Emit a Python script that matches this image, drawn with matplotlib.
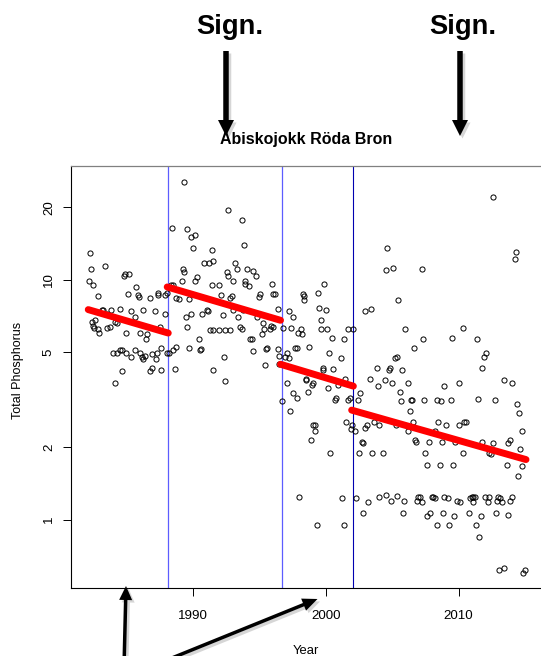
import matplotlib
matplotlib.use("Agg")
import matplotlib.pyplot as plt
from matplotlib.patches import FancyArrow
from matplotlib.transforms import IdentityTransform
import numpy as np

plt.rcParams['font.family'] = ['Liberation Sans', 'DejaVu Sans']

title = "Abiskojokk Röda Bron"
xlabel = "Year"
ylabel = "Total Phosphorus"
x_ticks = [1990, 2000, 2010]
y_ticks = [1, 2, 5, 10, 20]
y_tick_labels = ["1", "2", "5", "10", "20"]
breaks_blue = [1988.08, 1996.67]
break_dark = 2002.07

# observations (year, total phosphorus)
years = [
    1982.21, 1982.29, 1982.16, 1982.46, 1982.86, 1983.34, 1984.85, 1984.80, 1985.15, 1985.68,
    1985.10, 1985.85, 1985.93, 1986.73, 1987.36, 1987.31, 1987.86, 1988.04, 1982.34, 1982.59,
    1982.46, 1982.54, 1982.79, 1982.91, 1983.09, 1983.22, 1983.47, 1983.84, 1983.72, 1983.47,
    1984.09, 1984.47, 1984.27, 1984.97, 1985.28, 1985.60, 1985.98, 1986.23, 1986.53, 1986.43,
    1987.11, 1987.49, 1987.89, 1983.97, 1984.22, 1984.47, 1984.60, 1984.97, 1985.30, 1985.60,
    1985.98, 1986.11, 1986.23, 1986.36, 1986.86, 1987.24, 1987.19, 1987.61, 1988.04, 1988.19,
    1988.49, 1988.74, 1984.67, 1986.73, 1986.86, 1987.61, 1988.62, 1984.09,
    1989.30, 1988.42, 1989.55, 1989.80, 1990.15, 1990.00, 1991.38, 1991.51, 1990.83, 1991.18,
    1989.25, 1989.30, 1989.12, 1990.13, 1990.30, 1989.70, 1989.45, 1989.50, 1989.87, 1988.49,
    1988.32, 1988.69, 1988.94, 1989.70, 1990.53, 1990.60, 1990.40, 1991.01, 1991.13, 1990.70,
    1991.38, 1991.96, 1992.09, 1992.21, 1992.51, 1992.64, 1993.02, 1993.14, 1993.27, 1993.84,
    1993.64, 1992.59, 1992.89, 1992.81, 1993.02, 1993.39, 1993.52, 1993.69, 1992.76, 1992.39,
    1991.96, 1991.46, 1991.23, 1991.51, 1992.34, 1992.39, 1994.02, 1994.52, 1994.72, 1993.94,
    1993.89, 1994.20, 1995.03, 1994.97, 1994.82, 1995.28, 1995.33, 1995.15, 1994.40, 1994.27,
    1994.47, 1995.48, 1995.58, 1995.95, 1996.03, 1996.16, 1996.41, 1995.83, 1995.78, 1996.03,
    1996.41, 1996.43, 1995.40, 1996.48, 1993.72,
    1996.74, 1997.25, 1997.50, 1997.37, 1997.87, 1998.10, 1998.18, 1998.25, 1998.35, 1998.38,
    1999.43, 1999.86, 1999.51, 2000.01, 1999.61, 1999.61, 2000.06, 2000.44, 2001.40, 2001.64,
    2002.07, 1997.67, 1997.80, 1998.75, 1997.05, 1996.92, 1997.25, 2000.26, 2001.14, 1999.81,
    1999.76, 2000.56, 2001.47, 1998.50,
    2002.95, 2003.40, 2004.63, 2004.53, 2005.09, 2005.46, 2007.25, 2005.96, 2007.35, 2006.67,
    2003.83, 2004.83, 2004.73, 2005.21, 2005.39, 2005.71, 2009.48, 2010.36, 2011.42, 2012.07,
    2011.92, 2011.79, 2012.57, 2014.30, 2014.23, 2003.33, 2004.46, 2013.43,
    1997.05, 1997.55, 1997.80, 1998.68, 1998.48, 1998.93, 1999.00, 2000.14, 2000.94, 2000.69,
    2000.76, 2001.69, 2001.82, 1996.67, 1997.30, 1998.85, 1999.00, 1999.21, 1999.18, 2000.31,
    2001.52, 2001.94, 2001.87, 2002.19, 2002.57, 2002.40, 2003.90, 2004.96, 2006.21, 2005.59,
    2005.64, 2006.34, 2006.54, 2006.41, 2006.52, 2007.37, 2008.35, 2008.68, 2009.43, 2008.93,
    2010.06, 2011.49, 2012.77, 2014.05, 2014.38, 2014.53, 2014.81, 2014.63, 2014.46, 2014.76,
    2013.63, 2013.88, 2013.75, 2012.62, 2012.32, 2012.42, 2011.74, 2010.31, 2009.73, 2008.73,
    2007.80, 2007.50, 2007.60, 2008.60, 2009.56, 2008.48, 2009.05, 2010.04, 2010.44, 2010.56,
    2008.23, 2006.72, 2006.80, 2006.16, 2005.26, 2004.03, 2003.63, 2003.12, 2002.95, 2002.70,
    2002.77, 2002.50, 2003.45, 2004.33,
    1998.00, 2001.22, 2002.27, 2003.98, 2004.53, 2004.91, 2005.39, 2005.91, 2006.90, 2006.97,
    2007.10, 2007.22, 2007.97, 2008.10, 2008.23, 2008.93, 2009.23, 2009.86, 2010.11, 2010.86,
    2010.99, 2011.07, 2011.24, 2011.12, 2011.99, 2012.25, 2012.32, 2013.00, 2013.12, 2013.25,
    2012.87, 2013.88, 2014.00, 2002.82, 2003.15, 2005.84, 2007.60, 2007.85, 2008.80, 2009.68,
    2010.81, 2011.67, 2012.82, 2013.70, 1999.31, 2001.37, 2008.35, 2009.31, 2011.32, 2011.54,
    2013.02, 2013.45, 2014.88, 2015.01,
]
tp = [
    12.9, 11.1, 9.87, 9.47, 8.52, 11.4, 10.6, 10.4, 10.6, 9.32,
    8.69, 8.61, 8.47, 8.39, 8.61, 8.80, 8.61, 8.83, 6.66, 6.77,
    6.41, 6.29, 6.25, 5.99, 7.45, 7.45, 7.21, 7.50, 6.35, 6.29,
    6.66, 7.57, 6.60, 5.99, 7.40, 6.99, 6.01, 7.45, 5.92, 5.64,
    7.40, 6.35, 7.17, 4.96, 4.95, 5.07, 5.11, 4.96, 4.76, 5.07,
    4.95, 4.76, 4.68, 4.79, 4.91, 4.95, 4.68, 5.19, 4.96, 4.96,
    5.07, 5.24, 4.16, 4.16, 4.29, 4.22, 4.23, 3.71,
    25.5, 16.4, 16.2, 15.0, 15.3, 13.6, 13.3, 12.0, 11.7, 11.7,
    11.1, 10.8, 9.87, 9.90, 10.3, 8.33, 6.99, 6.35, 7.17, 9.53,
    9.47, 8.39, 8.33, 5.19, 5.07, 5.12, 5.68, 7.45, 7.40, 7.21,
    9.47, 9.53, 8.66, 7.10, 10.8, 10.4, 9.87, 11.7, 11.1, 13.9,
    17.8, 19.5, 8.52, 8.42, 7.45, 6.99, 6.35, 6.25, 6.19, 6.19,
    6.19, 6.19, 6.19, 4.22, 4.74, 3.77, 11.1, 10.9, 10.4, 9.87,
    9.56, 9.38, 8.69, 8.47, 6.99, 6.60, 6.25, 5.92, 5.68, 5.68,
    5.04, 5.16, 5.19, 9.56, 8.69, 8.69, 7.57, 6.39, 6.25, 6.35,
    5.12, 4.79, 4.39, 4.44, 7.50,
    6.31, 7.40, 6.99, 6.31, 6.01, 6.21, 5.92, 8.69, 8.52, 8.20,
    8.83, 9.56, 7.62, 7.45, 6.81, 6.21, 6.21, 5.71, 5.68, 6.21,
    6.21, 5.19, 5.20, 5.24, 4.96, 4.76, 4.71, 4.95, 4.71, 4.30,
    4.22, 4.23, 3.84, 3.84,
    7.40, 7.54, 13.5, 11.0, 11.2, 8.25, 11.1, 6.21, 5.68, 5.19,
    4.30, 4.30, 4.19, 4.71, 4.76, 4.22, 5.71, 6.31, 5.68, 4.96,
    4.76, 4.30, 22.0, 13.0, 12.2, 3.84, 3.80, 3.80,
    3.71, 3.38, 3.21, 3.40, 3.80, 3.63, 3.71, 3.53, 3.63, 3.14,
    3.21, 3.16, 3.22, 3.12, 2.83, 2.15, 2.49, 2.47, 2.35, 1.90,
    2.55, 2.49, 2.39, 2.34, 3.38, 3.14, 3.60, 3.71, 3.71, 3.39,
    3.12, 2.83, 2.55, 3.16, 3.16, 3.16, 3.16, 3.12, 3.16, 3.60,
    3.71, 3.17, 3.16, 3.71, 3.02, 2.78, 2.35, 1.97, 1.52, 1.68,
    1.69, 2.14, 2.08, 2.08, 1.89, 1.88, 2.10, 1.89, 2.10, 2.10,
    2.10, 1.90, 1.69, 1.69, 1.69, 2.55, 2.49, 2.49, 2.55, 2.55,
    2.35, 2.14, 2.10, 2.35, 2.47, 2.49, 2.55, 2.49, 2.40, 2.10,
    2.09, 1.90, 1.90, 1.90,
    1.24, 1.23, 1.23, 1.24, 1.27, 1.20, 1.26, 1.20, 1.20, 1.24,
    1.24, 1.18, 1.24, 1.24, 1.23, 1.24, 1.23, 1.20, 1.18, 1.23,
    1.24, 1.24, 1.24, 1.18, 1.24, 1.18, 1.24, 1.24, 1.23, 1.18,
    1.20, 1.20, 1.24, 1.07, 1.18, 1.07, 1.04, 1.07, 1.07, 1.04,
    1.07, 1.04, 1.07, 1.05, 0.95, 0.95, 0.95, 0.95, 0.95, 0.85,
    0.62, 0.63, 0.60, 0.62,
]

# fitted trend segments (start year, end year, start value, end value)
seg_x0 = [1982.09, 1988.04, 1996.58, 2001.94]
seg_x1 = [1988.12, 1996.58, 2002.07, 2015.08]
seg_y0 = [7.50, 9.32, 4.44, 2.86]
seg_y1 = [5.99, 6.77, 3.60, 1.78]

W, H = 541, 656
fig = plt.figure(figsize=(W / 100, H / 100), dpi=100)
ax = fig.add_axes([71 / W, (H - 588.3) / H, (541 - 71) / W, (588.3 - 166) / H])

ax.set_yscale('log')
ax.set_xlim(1980.79, 2016.21)
ax.set_ylim(0.5177, 29.74)

for xb in breaks_blue:
    ax.axvline(xb, color='#5c5cff', lw=0.9, zorder=1)
ax.axvline(break_dark, color='#0000b0', lw=0.8, zorder=1)

ax.plot(years, tp, linestyle='none', marker='o', ms=3.7, mfc='none',
        mec='black', mew=0.7, zorder=2)

for x0, x1, y0, y1 in zip(seg_x0, seg_x1, seg_y0, seg_y1):
    ax.plot([x0, x1], [y0, y1], color='#ff0000', lw=5.0,
            solid_capstyle='round', zorder=3)

ax.set_xticks(x_ticks)
ax.set_xticklabels([str(v) for v in x_ticks], fontsize=9.6)
ax.set_yticks(y_ticks)
ax.set_yticklabels(y_tick_labels, fontsize=9.6, rotation=90, va='center')
ax.yaxis.set_minor_locator(matplotlib.ticker.NullLocator())
ax.tick_params(axis='both', direction='out', length=5.6, width=0.7, color='black')
ax.tick_params(axis='x', pad=10)
ax.tick_params(axis='y', pad=6)

for s in ['left', 'bottom']:
    ax.spines[s].set_color('black')
    ax.spines[s].set_linewidth(0.8)
ax.spines['top'].set_color('#808080')
ax.spines['top'].set_linewidth(0.9)
ax.spines['right'].set_visible(False)

fig.text(306 / W, (H - 144) / H, title, ha='center', va='baseline',
         fontsize=11.5, fontweight='bold')
fig.text(306 / W, (H - 654) / H, xlabel, ha='center', va='baseline', fontsize=9.4)
fig.text(18 / W, (H - 370) / H, ylabel, ha='center', va='center',
         rotation=90, fontsize=9.0)

# annotations
for cx in [230, 463]:
    fig.text(cx / W, (H - 34.5) / H, "Sign.", ha='center', va='baseline',
             fontsize=19.7, fontweight='bold')

idt = IdentityTransform()
arrows = [
    # x, y, dx, dy (pixels from bottom-left), shaft width, head width, head length
    (226, H - 51, 0, -85, 5.5, 16, 16),
    (460, H - 51, 0, -85, 5.5, 16, 16),
    (124, -12, 2, 82, 3.5, 13, 14),
    (167, -4, 150.5, 61, 3.5, 13, 15),
]
for x, y, dx, dy, w, hw, hl in arrows:
    sh = FancyArrow(x + 2.5, y - 2.5, dx, dy, width=w, head_width=hw, head_length=hl,
                    length_includes_head=True, transform=idt, color='#bbbbbb',
                    alpha=0.6, lw=0)
    fig.add_artist(sh)
    ar = FancyArrow(x, y, dx, dy, width=w, head_width=hw, head_length=hl,
                    length_includes_head=True, transform=idt, color='black', lw=0)
    fig.add_artist(ar)

fig.savefig('out.png', dpi=100)
